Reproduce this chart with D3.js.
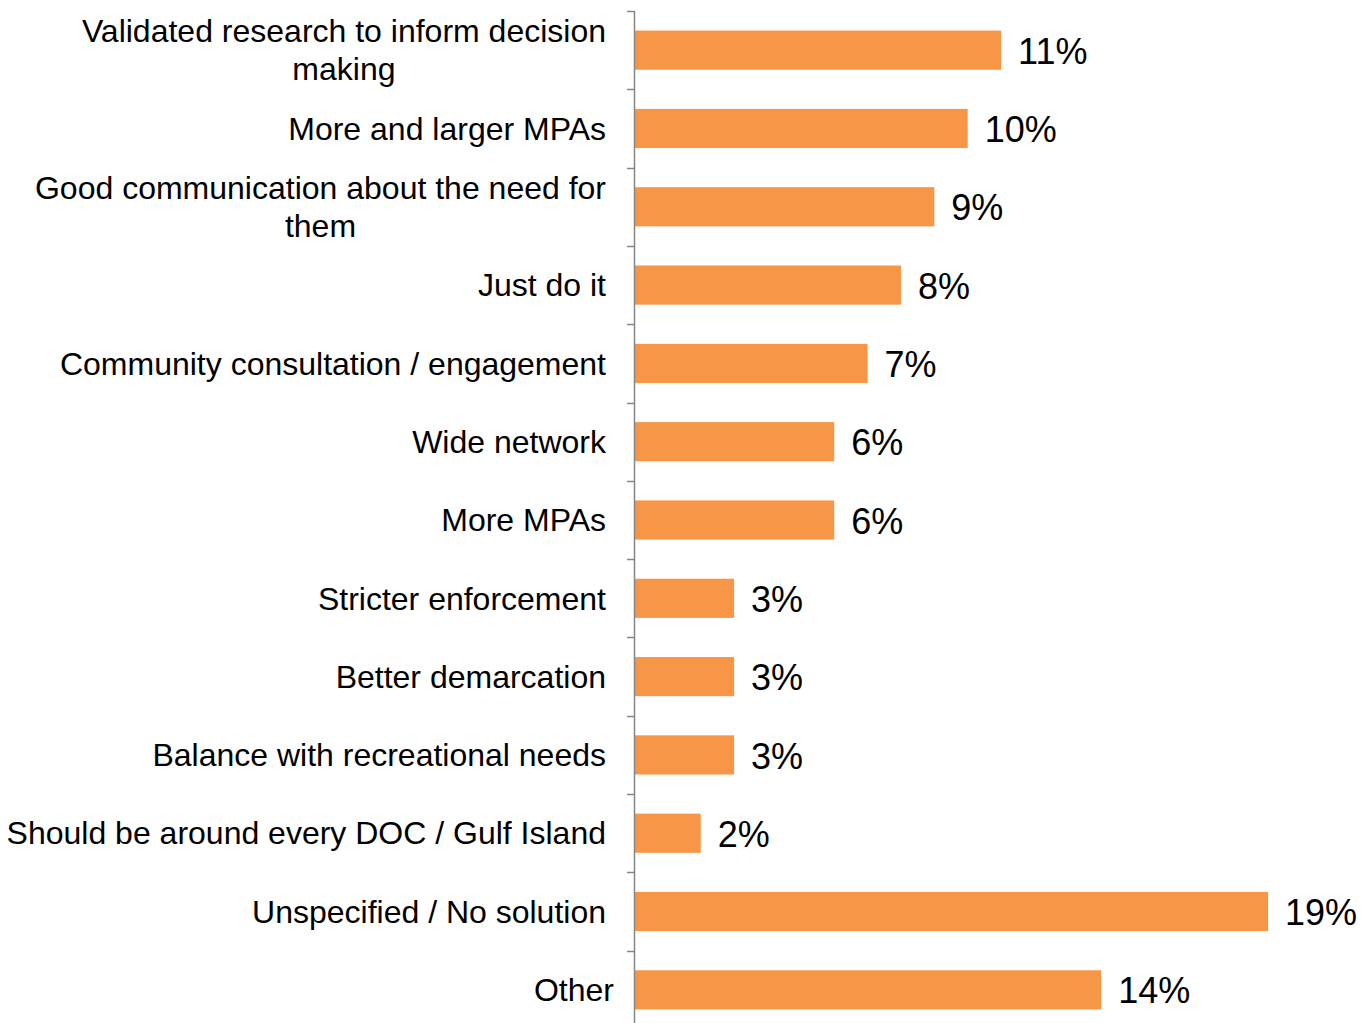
<!DOCTYPE html>
<html>
<head>
<meta charset="utf-8">
<script src="https://cdn.jsdelivr.net/npm/d3@7"></script>
<style>
  body { margin: 0; background: #fff; }
  svg { display: block; font-family: Arial, "Liberation Sans", sans-serif; }
</style>
</head>
<body>
<svg id="chart" width="1363" height="1023"></svg>
<script>
// categories (top to bottom), wrapped lines split by "|"
var categories = [
    "Validated research to inform decision|making",
    "More and larger MPAs",
    "Good communication about the need for|them",
    "Just do it",
    "Community consultation / engagement",
    "Wide network",
    "More MPAs",
    "Stricter enforcement",
    "Better demarcation",
    "Balance with recreational needs",
    "Should be around every DOC / Gulf Island",
    "Unspecified / No solution",
    "Other"
];
var values = [11, 10, 9, 8, 7, 6, 6, 3, 3, 3, 2, 19, 14];

function draw() {
    var svg = d3.select("#chart");

    var axisX = 634, plotTop = 11, plotBottom = 1029;

    var x = d3.scaleLinear()
        .domain([0, 19])
        .range([axisX, 1268]);

    var y = d3.scaleBand()
        .domain(categories)
        .range([plotTop, plotBottom])
        .paddingInner(0.5)
        .paddingOuter(0.25);

    var step = y.step();

    // bars
    svg.selectAll("rect.bar")
        .data(categories)
        .enter()
        .append("rect")
        .attr("class", "bar")
        .attr("x", x(0) + 1)
        .attr("y", function(d) { return y(d); })
        .attr("width", function(d, i) { return x(values[i]) - x(0) - 1; })
        .attr("height", y.bandwidth())
        .style("fill", "#F79646");

    // axis line + ticks at band boundaries
    svg.append("line")
        .attr("x1", axisX + 0.5).attr("x2", axisX + 0.5)
        .attr("y1", plotTop).attr("y2", plotBottom)
        .attr("stroke", "#868686").attr("stroke-width", 1.5);

    var bounds = categories.map(function(d) { return y(d) - step * 0.25; });
    bounds.push(plotBottom);
    svg.selectAll("line.tick")
        .data(bounds)
        .enter()
        .append("line")
        .attr("class", "tick")
        .attr("x1", axisX - 7).attr("x2", axisX + 0.5)
        .attr("y1", function(d) { return Math.round(d) + 0.5; })
        .attr("y2", function(d) { return Math.round(d) + 0.5; })
        .attr("stroke", "#868686").attr("stroke-width", 1.5);

    // category labels
    var labelRight = 606, lineH = 38;
    categories.forEach(function(cat) {
        var lines = cat.split("|");
        var cy = y(cat) + y.bandwidth() / 2;
        var right = cat === "Other" ? labelRight + 8 : labelRight;
        var g = svg.append("g");
        var texts = lines.map(function(line, j) {
            return g.append("text")
                .attr("y", cy + (j - (lines.length - 1) / 2) * lineH)
                .attr("dy", "0.35em")
                .style("font-size", "32px")
                .style("fill", "#000")
                .text(line);
        });
        var maxW = d3.max(texts, function(t) { return t.node().getComputedTextLength(); });
        texts.forEach(function(t) {
            t.attr("x", right - maxW / 2).attr("text-anchor", "middle");
        });
    });

    // value labels
    svg.selectAll("text.value")
        .data(categories)
        .enter()
        .append("text")
        .attr("class", "value")
        .attr("x", function(d, i) { return x(values[i]) + 17; })
        .attr("y", function(d) { return y(d) + y.bandwidth() / 2 + 1; })
        .attr("dy", "0.35em")
        .style("font-size", "36px")
        .style("fill", "#000")
        .text(function(d, i) { return values[i] + "%"; });
}

draw();
</script>
</body>
</html>
